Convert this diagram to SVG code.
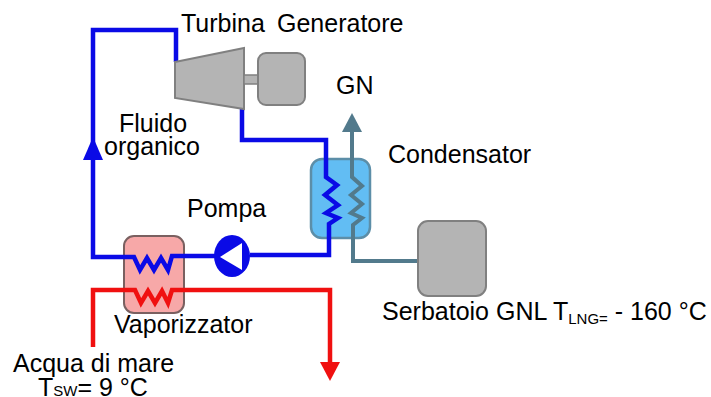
<svg xmlns="http://www.w3.org/2000/svg" width="711" height="397" viewBox="0 0 711 397">
<style>
text{font-family:"Liberation Sans",Arial,sans-serif;font-size:25px;fill:#000}
.sub{font-size:15px}
.blue{fill:none;stroke:#0a0ae6;stroke-width:4.5}
.red{fill:none;stroke:#f01010;stroke-width:4.5}
.teal{fill:none;stroke:#527a8c;stroke-width:4}
.grey{fill:#b4b4b4;stroke:#808080;stroke-width:2}
</style>
<rect width="711" height="397" fill="#fff"/>
<g id="condensatore"><rect x="311" y="159" width="59" height="79" rx="11" fill="#62bdf3" stroke="#5c8ea8" stroke-width="2.5"/></g>
<g id="vaporizzatore"><rect x="124" y="236" width="60" height="77" rx="10" fill="#f7a8a8" stroke="#7a6060" stroke-width="2"/></g>
<g id="connectors">
<path class="blue" d="M176 62V30H93V257H134L140 270L147 258L154 270L161 258L168 270L172 256H215"/>
<path class="blue" d="M242 107V140H326V177L337 185L325 195L338 205L326 213L338 218L329 224V255H250"/>
<path class="red" d="M93 347V290H135L141 303L148 291L155 303L162 291L168 303L172 290H330V364"/>
<path class="teal" d="M352 130V177L362 186L351 195L362 204L351 213L362 218L353 225V261H418"/>
<polygon points="352,113 362,132 342,132" fill="#527a8c"/>
<polygon points="93,137 103,160 83,160" fill="#0a0ae6"/>
<polygon points="320,362 340,362 330,381" fill="#f01010"/>
</g>
<g id="turbina"><polygon class="grey" points="175,62 244,48 244,109 175,98"/></g>
<g id="albero"><rect x="244" y="75" width="14" height="9" fill="#b4b4b4" stroke="#808080" stroke-width="1.5"/></g>
<g id="generatore"><rect class="grey" x="258" y="53" width="47" height="52" rx="8"/></g>
<g id="pompa"><ellipse cx="232" cy="256" rx="18" ry="21" fill="#0a0ae6"/><polygon points="220,257 242,243 242,270" fill="#fff"/></g>
<g id="serbatoio"><rect class="grey" x="418" y="221" width="68" height="75" rx="10"/></g>
<g id="labels">
<text x="181" y="32">Turbina</text>
<text x="277" y="32">Generatore</text>
<text x="336" y="94">GN</text>
<text x="119" y="132">Fluido</text>
<text x="104" y="155">organico</text>
<text x="388" y="163">Condensator</text>
<text x="187" y="217">Pompa</text>
<text x="114" y="333">Vaporizzator</text>
<text x="382" y="320">Serbatoio GNL T<tspan class="sub" dy="4">LNG=</tspan><tspan dy="-4"> - 160 °C</tspan></text>
<text x="13" y="372">Acqua di mare</text>
<text x="38" y="396">T<tspan class="sub" dy="0">SW</tspan><tspan>= 9 °C</tspan></text>
</g>
</svg>
